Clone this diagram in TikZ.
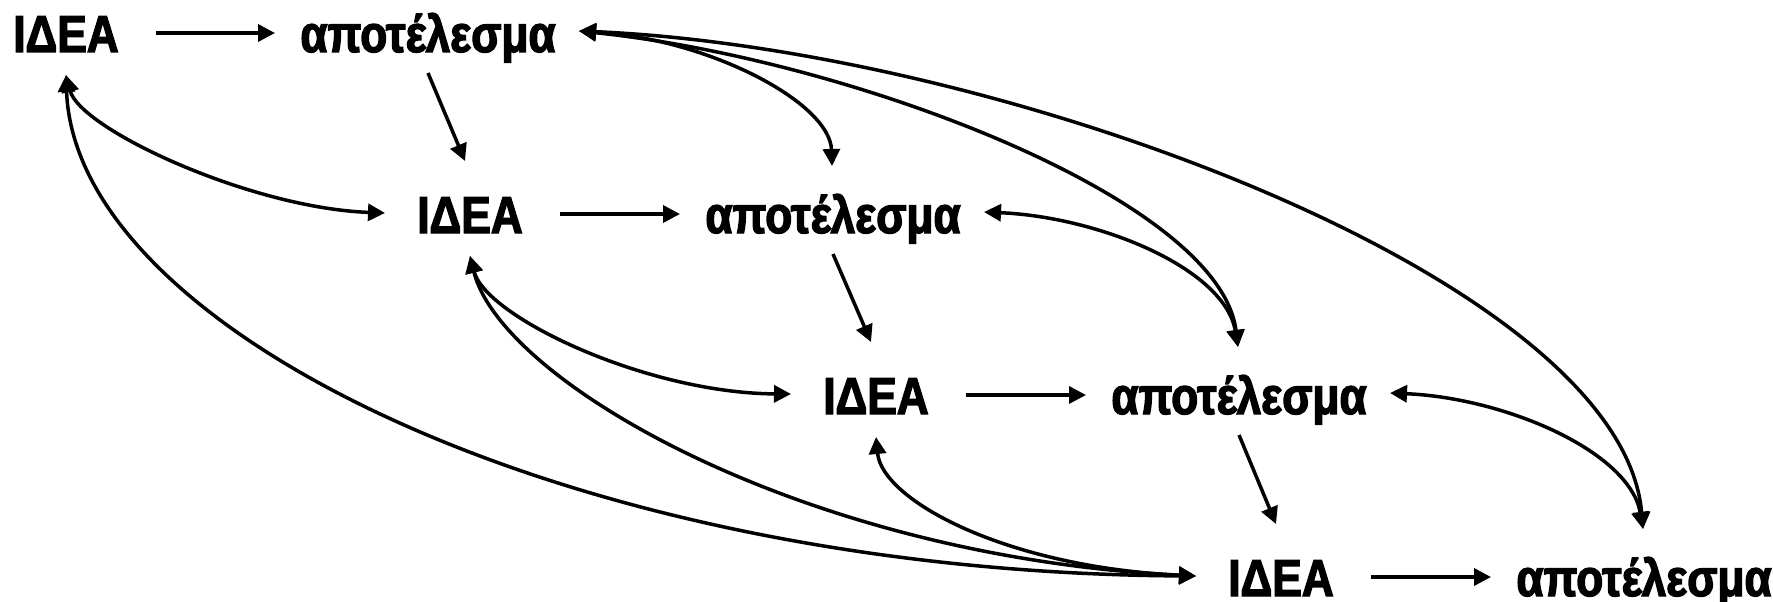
\documentclass[tikz,border=0pt]{standalone}
\usepackage{fontspec}
\newfontfamily\lblfont{Liberation Sans}[FakeStretch=0.85,FakeBold=2.5]
\usetikzlibrary{arrows.meta}
\begin{document}
\begin{tikzpicture}[x=1pt,y=-1pt,
  lbl/.style={font=\lblfont\bfseries\fontsize{52}{60}\selectfont, inner sep=0pt, anchor=base},
  con/.style={line width=3.5pt, -{Triangle[length=17pt,width=17pt]}},
  bi/.style={line width=3.5pt, {Triangle[length=17pt,width=17pt]}-{Triangle[length=17pt,width=17pt]}}]
\useasboundingbox (0,0) rectangle (1773,602);
\node[lbl] (I1) at (66,52) {ΙΔΕΑ};
\node[lbl] (R1) at (428,52) {αποτέλεσμα};
\node[lbl] (I2) at (470,233) {ΙΔΕΑ};
\node[lbl] (R2) at (833,233) {αποτέλεσμα};
\node[lbl] (I3) at (876,414) {ΙΔΕΑ};
\node[lbl] (R3) at (1239,414) {αποτέλεσμα};
\node[lbl] (I4) at (1281,596) {ΙΔΕΑ};
\node[lbl] (R4) at (1644,596) {αποτέλεσμα};
% horizontal
\draw[con] ([shift={(90,-19)}]I1.base) -- ([shift={(-153,-19)}]R1.base);
\draw[con] ([shift={(90,-19)}]I2.base) -- ([shift={(-153,-19)}]R2.base);
\draw[con] ([shift={(90,-19)}]I3.base) -- ([shift={(-153,-19)}]R3.base);
\draw[con] ([shift={(90,-19)}]I4.base) -- ([shift={(-153,-19)}]R4.base);
% diagonal
\draw[con] ([shift={(0,21)}]R1.base) -- ([shift={(-5,-72)}]I2.base);
\draw[con] ([shift={(0,21)}]R2.base) -- ([shift={(-5,-72)}]I3.base);
\draw[con] ([shift={(0,21)}]R3.base) -- ([shift={(-5,-72)}]I4.base);
% result curves
\draw[bi] ([shift={(151,-21)}]R1.base) .. controls +(131,8) and +(-2,-63) .. ([shift={(-1,-67)}]R2.base);
\draw[bi] ([shift={(151,-21)}]R1.base) .. controls +(271,28) and +(-18,-148) .. ([shift={(-1,-67)}]R3.base);
\draw[bi] ([shift={(151,-21)}]R1.base) .. controls +(421,18) and +(-21,-250) .. ([shift={(-1,-67)}]R4.base);
\draw[bi] ([shift={(151,-21)}]R2.base) .. controls +(116,5) and +(-13,-78) .. ([shift={(-1,-67)}]R3.base);
\draw[bi] ([shift={(151,-21)}]R3.base) .. controls +(116,5) and +(-13,-77) .. ([shift={(-1,-67)}]R4.base);
% idea curves
\draw[bi] ([shift={(0,23)}]I1.base) .. controls +(14,54) and +(-135,-5) .. ([shift={(-85,-20)}]I2.base);
\draw[bi] ([shift={(0,23)}]I1.base) .. controls +(9,254) and +(-631,-4) .. ([shift={(-85,-20)}]I4.base);
\draw[bi] ([shift={(0,23)}]I2.base) .. controls +(16,61) and +(-145,-1) .. ([shift={(-85,-20)}]I3.base);
\draw[bi] ([shift={(0,23)}]I2.base) .. controls +(31,126) and +(-391,-19) .. ([shift={(-85,-20)}]I4.base);
\draw[bi] ([shift={(0,23)}]I3.base) .. controls +(6,63) and +(-191,-9) .. ([shift={(-85,-20)}]I4.base);
\end{tikzpicture}
\end{document}
